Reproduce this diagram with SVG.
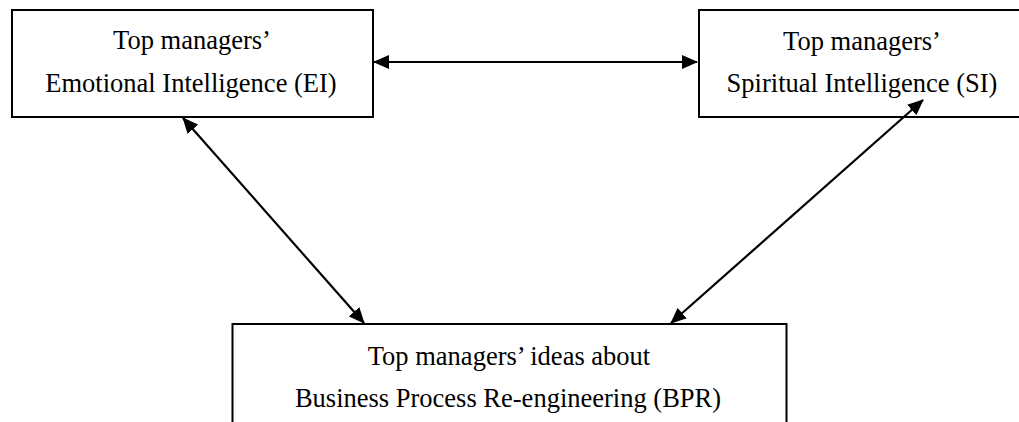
<svg xmlns="http://www.w3.org/2000/svg" width="1019" height="422" viewBox="0 0 1019 422">
  <style>
    .box { fill: #ffffff; stroke: #000000; stroke-width: 2; }
    .label { font-family: "Liberation Serif", "Times New Roman", serif; font-size: 26.5px; fill: #000000; text-anchor: middle; }
    .link { stroke: #000000; stroke-width: 2.2; fill: none; marker-start: url(#head); marker-end: url(#head); }
  </style>
  <defs>
    <marker id="head" markerUnits="userSpaceOnUse" markerWidth="16" markerHeight="14" viewBox="0 0 16 14" refX="15" refY="7" orient="auto-start-reverse">
      <path d="M0,0 L16,7 L0,14 z" fill="#000000"/>
    </marker>
  </defs>

  <rect width="1019" height="422" fill="#ffffff"/>

  <g id="node-ei">
    <rect class="box" x="12" y="10" width="361" height="107"/>
    <text class="label" x="192" y="49">Top managers’</text>
    <text class="label" x="191" y="92">Emotional Intelligence (EI)</text>
  </g>

  <g id="node-si">
    <rect class="box" x="699" y="10" width="330" height="107"/>
    <text class="label" x="862" y="50">Top managers’</text>
    <text class="label" x="862" y="92">Spiritual Intelligence (SI)</text>
  </g>

  <g id="node-bpr">
    <rect class="box" x="232.5" y="324" width="554" height="110"/>
    <text class="label" x="509" y="365">Top managers’ ideas about</text>
    <text class="label" x="508" y="407">Business Process Re-engineering (BPR)</text>
  </g>

  <g id="connectors">
    <line class="link" x1="374" y1="62" x2="697" y2="62"/>
    <line class="link" x1="183" y1="118" x2="364" y2="323"/>
    <line class="link" x1="923" y1="100" x2="671" y2="323"/>
  </g>
</svg>
